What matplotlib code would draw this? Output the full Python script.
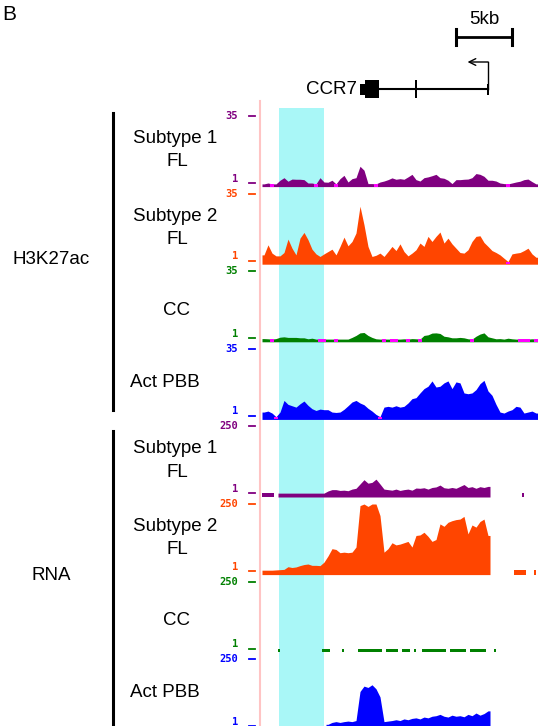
import numpy as np
import matplotlib
matplotlib.use('Agg')
import matplotlib.pyplot as plt
from matplotlib.patches import Rectangle
from matplotlib.lines import Line2D

nan = np.nan

# ---- coverage per bin (0 = no data, shown in magenta; nan = nothing drawn)
h3_sub1 = [0.3, 1.0, 0, 0.5, 2.4, 3.7, 1.9, 3.0, 2.9, 2.9,
           2.7, 1.0, 1.0, 0, 3.7, 1.5, 1.4, 2.4, 0, 3.2,
           4.9, 1.5, 3.2, 3.7, 9.5, 7.5, 0.7, 0.7, 0, 1.5,
           2.0, 2.7, 3.6, 2.9, 3.2, 2.9, 4.1, 5.4, 2.7, 2.0,
           3.7, 4.1, 4.7, 5.4, 3.7, 3.4, 2.4, 0.7, 2.7, 2.7,
           2.9, 3.0, 3.7, 5.8, 5.4, 4.4, 2.4, 2.4, 2.0, 1.0,
           0.7, 0, 1.0, 1.5, 1.9, 2.7, 3.0, 1.7, 0.3]
h3_sub2 = [3.9, 9.0, 4.8, 3.4, 3.4, 5.1, 11.9, 7.3, 3.9, 12.4,
           15.3, 11.6, 6.8, 4.4, 3.1, 4.4, 5.6, 6.8, 3.9, 8.2,
           12.9, 8.5, 10.7, 15.0, 28.6, 19.2, 8.2, 3.1, 3.7, 4.8,
           3.1, 5.6, 8.2, 6.1, 9.5, 5.6, 3.4, 4.8, 6.5, 9.9,
           8.2, 13.3, 10.7, 13.3, 15.5, 9.9, 12.4, 9.5, 7.3, 5.1,
           4.8, 6.5, 10.7, 13.3, 13.6, 10.2, 8.2, 6.1, 5.1, 3.9,
           2.2, 0, 4.4, 4.8, 5.1, 6.1, 7.3, 4.4, 2.7]
h3_cc = [0.8, 0.7, 0, 0.8, 1.5, 1.7, 1.4, 1.4, 1.4, 1.2,
         1.2, 0.7, 1.0, 0.5, 0, 0, 0.5, 0.4, 0, 0.4,
         0.5, 0.5, 1.4, 2.4, 3.7, 3.9, 2.4, 1.4, 0.7, 0.5,
         0, 0.5, 0, 0, 0.5, 0.7, 0, 0.8, 0.7, 0,
         2.4, 2.7, 3.6, 3.7, 3.4, 2.0, 1.7, 1.2, 1.2, 1.4,
         1.2, 0.7, 0, 2.0, 3.1, 3.7, 1.7, 1.2, 0.7, 0.8,
         0.5, 1.0, 0.7, 0.5, 0, 0, 0, 0.7, 0]
h3_pbb = [2.9, 3.4, 2.4, 0, 2.9, 8.8, 6.8, 6.1, 5.4, 7.1,
          8.5, 6.3, 4.6, 3.7, 4.4, 4.1, 4.1, 2.9, 2.7, 2.9,
          4.3, 6.1, 8.0, 8.8, 7.5, 6.6, 4.8, 3.4, 1.7, 0,
          5.4, 5.8, 5.4, 6.1, 5.4, 5.8, 7.5, 9.7, 10.2, 12.6,
          14.8, 16.0, 18.7, 15.6, 16.0, 17.7, 18.7, 14.8, 18.2, 17.7,
          12.6, 12.2, 12.6, 14.3, 17.3, 19.0, 13.6, 11.4, 6.8, 2.9,
          2.4, 3.4, 4.1, 5.8, 5.4, 2.4, 2.9, 3.4, 2.4]

rna_sub1 = [2, 2, 2, nan, 2, 2, 2, 2, 2, 2,
            2, 2, 2, 2, 2, 2, 10, 15, 15, 12,
            13, 11, 17, 20, 36, 52, 39, 42, 54, 36,
            17, 15, 13, 17, 12, 15, 17, 13, 21, 20,
            22, 17, 23, 25, 32, 22, 20, 23, 20, 27,
            34, 23, 26, 20, 26, 23, 27, nan, nan, nan,
            nan, nan, nan, nan, nan, 2, nan, nan, nan]
rna_sub2 = [4, 4, 4, 5, 6, 7, 17, 14, 16, 21,
            25, 27, 22, 22, 21, 34, 57, 84, 81, 69,
            71, 69, 71, 90, 244, 250, 241, 250, 250, 207,
            71, 84, 106, 98, 101, 106, 111, 90, 133, 135,
            145, 130, 111, 118, 176, 167, 182, 188, 192, 194,
            204, 139, 172, 164, 185, 194, 133, nan, nan, nan,
            nan, nan, nan, 4, 4, 4, nan, nan, 4]
rna_cc = [nan, nan, nan, nan, 1, nan, nan, nan, nan, nan,
          nan, nan, nan, nan, nan, 1, 1, nan, nan, nan,
          1, nan, nan, nan, 1, 1, 1, 1, 1, 1,
          nan, 1, 1, 1, nan, 1, 1, nan, 1, nan,
          1, 1, 1, 1, 1, 1, nan, 1, 1, 1,
          1, nan, 1, 1, 1, 1, nan, nan, 1, nan,
          nan, nan, nan, nan, nan, nan, nan, nan, nan]
rna_pbb = [nan, nan, nan, nan, nan, nan, nan, nan, nan, nan,
           nan, nan, nan, nan, nan, nan, 8, 15, 18, 15,
           18, 20, 18, 22, 130, 150, 145, 155, 140, 110,
           18, 20, 22, 25, 22, 28, 25, 30, 32, 28,
           35, 32, 38, 40, 45, 38, 35, 42, 38, 40,
           36, 45, 40, 50, 42, 48, 58, nan, nan, nan,
           nan, nan, nan, nan, nan, nan, nan, nan, nan]

track_names = ["Subtype 1\nFL", "Subtype 2\nFL", "CC", "Act PBB"]
track_colors = ['#800080', '#ff4500', '#008000', '#0000ff']
groups = ["H3K27ac", "RNA"]
group_max = [35, 250]
group_data = [[h3_sub1, h3_sub2, h3_cc, h3_pbb],
              [rna_sub1, rna_sub2, rna_cc, rna_pbb]]

# gene model / annotations (kb from left edge of the browser window)
bin_kb = 0.36
highlight = (1.53, 5.58)
gene_utr = [(8.78, 9.27), (20.22, 20.4)]
gene_cds = [(9.27, 10.53), (13.8, 13.98)]
gene_span = (10.53, 20.3)
tss_kb = 20.3
tss_arrow_to = 18.5
scale_kb = (17.5, 22.5)

W, H = 538, 726
X0 = 262          # pixel column where the browser data starts
PX_KB = 11.11
gap_color = '#ff00ff'

plt.rcParams['font.family'] = ['Liberation Sans', 'DejaVu Sans']
fig = plt.figure(figsize=(W / 100, H / 100), dpi=100)

# background axes: x in kb, y in pixel rows
bg = fig.add_axes([0, 0, 1, 1])
bg.set_xlim(-X0 / PX_KB, (W - X0) / PX_KB)
bg.set_ylim(H, 0)
bg.axis('off')

bg.add_patch(Rectangle((highlight[0], 108), highlight[1] - highlight[0], H - 108,
                       color='#a9f7f7', lw=0))
bg.plot([-0.18, -0.18], [101, H], color='#ffc4c4', lw=1.5)

# gene
bg.plot(gene_span, [89, 89], color='k', lw=1.5)
for a, b in gene_cds:
    bg.add_patch(Rectangle((a, 80), b - a, 18, color='k', lw=0))
for a, b in gene_utr:
    bg.add_patch(Rectangle((a, 83.5), b - a, 11, color='k', lw=0))
bg.plot([tss_kb, tss_kb], [89, 62], color='k', lw=1)
bg.annotate('', xy=(tss_arrow_to, 62), xytext=(tss_kb + 0.05, 62),
            arrowprops=dict(arrowstyle='->', lw=1, color='k', shrinkA=0, shrinkB=0,
                            mutation_scale=12))
bg.text(gene_utr[0][0] - 0.2, 90, 'CCR7', ha='right', va='center', fontsize=13.5)

# scale bar
bg.plot(scale_kb, [37, 37], color='k', lw=2)
for s in scale_kb:
    bg.plot([s, s], [29, 45], color='k', lw=2.2)
bg.text(np.mean(scale_kb), 20, '5kb', ha='center', va='center', fontsize=13.5)

fig.text(2 / W, 1 - 14 / H, 'B', ha='left', va='center', fontsize=15)


def fy(py):
    return 1 - py / H


TOP0, STEP = 116, 77.6
n = len(h3_sub1)
edges = np.arange(n + 1) * bin_kb
centers = edges[:-1] + bin_kb / 2


def draw_profile(ax, heights, ylo, color):
    finite = np.isfinite(heights)
    i = 0
    while i < n:
        if not finite[i]:
            i += 1
            continue
        j = i
        while j + 1 < n and finite[j + 1]:
            j += 1
        seg = heights[i:j + 1]
        if j > i:
            xx = np.concatenate([[edges[i]], centers[i:j + 1], [edges[j + 1]]])
            yy = np.concatenate([[seg[0]], seg, [seg[-1]]])
            ax.fill_between(xx, ylo, yy, color=color, lw=0)
        else:
            ax.bar(edges[i], seg[0] - ylo, width=bin_kb * 0.6, bottom=ylo,
                   align='edge', color=color, lw=0)
        i = j + 1


for g, gname in enumerate(groups):
    vmax = group_max[g]
    first = TOP0 + STEP * 4 * g
    # group bracket + label
    bar_top = first - 3 if g == 0 else first + 5
    bar_bot = first + STEP * 3 + 61 if g == 0 else H
    fig.add_artist(Line2D([112.5 / W] * 2, [fy(bar_top), fy(bar_bot)], color='k', lw=2.2))
    fig.text(51 / W, fy(264 if g == 0 else 580.5), gname, ha='center', va='baseline',
             fontsize=13.5)
    for t in range(4):
        y_top = first + STEP * t
        color = track_colors[t]
        upp = (vmax - 1) / 67.0
        ylo = 1 - 3.6 * upp
        band = ylo + 2.7 * upp
        ax = fig.add_axes([X0 / W, fy(y_top + 70.6), (W - X0) / W, 70.6 / H])
        ax.set_xlim(0, n * bin_kb)
        ax.set_ylim(ylo, vmax)
        ax.axis('off')
        ax.set_facecolor('none')
        v = np.array(group_data[g][t], dtype=float)
        draw_profile(ax, np.maximum(v, band), ylo, color)
        gap = v == 0
        ax.bar(edges[:-1][gap], band - ylo, width=bin_kb, bottom=ylo, align='edge',
               color=gap_color, lw=0)

        # scale labels: max at the top tick, "1" sits just above the bottom tick
        for lab, ytxt, ytick in [(str(vmax), y_top, y_top), ('1', y_top + 62.5, y_top + 67)]:
            fig.text(238 / W, fy(ytxt), lab, ha='right', va='center', color=color,
                     family='DejaVu Sans Mono', weight='bold', fontsize=7.5)
            fig.add_artist(Line2D([249 / W, 255 / W], [fy(ytick)] * 2, color=color, lw=1.3))

        # track names
        name = track_names[t]
        if '\n' in name:
            l1, l2 = name.split('\n')
            fig.text(175 / W, fy(y_top + 27), l1, ha='center', va='baseline', fontsize=13.5)
            fig.text(177.5 / W, fy(y_top + 50.5), l2, ha='center', va='baseline', fontsize=13.5)
        elif name == 'CC':
            fig.text(176 / W, fy(y_top + 43.5), name, ha='center', va='baseline', fontsize=13.5)
        else:
            fig.text(130 / W, fy(y_top + 38), name, ha='left', va='baseline', fontsize=13.5)

fig.savefig('out.png', dpi=100)
